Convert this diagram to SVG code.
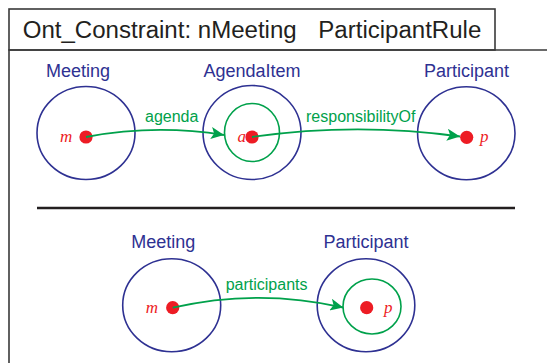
<svg xmlns="http://www.w3.org/2000/svg" width="547" height="363" viewBox="0 0 547 363">
  <defs>
    <style>
      .frame { fill: none; stroke: #3a3a3a; stroke-width: 1.6; }
      .title { font-family: "Liberation Sans", Arial, sans-serif; font-size: 23.5px; fill: #231f20; }
      .cls { fill: none; stroke: #2e3192; stroke-width: 1.6; }
      .inner { fill: none; stroke: #00a14b; stroke-width: 1.6; }
      .dot { fill: #ed1c24; }
      .cname { font-family: "Liberation Sans", Arial, sans-serif; font-size: 18px; fill: #2e3192; }
      .rel { font-family: "Liberation Sans", Arial, sans-serif; font-size: 16px; fill: #00a14b; }
      .var { font-family: "Liberation Serif", "Times New Roman", serif; font-style: italic; font-size: 17px; fill: #ed1c24; }
      .edge { fill: none; stroke: #00a14b; stroke-width: 1.8; }
    </style>
    <marker id="arrow" markerUnits="userSpaceOnUse" markerWidth="14" markerHeight="12" refX="13" refY="6" orient="auto">
      <path d="M0,0 L13,6 L0,12 L3,6 Z" fill="#00a14b"/>
    </marker>
  </defs>

  <g id="frame">
    <rect class="frame" x="9" y="9" width="486" height="41"/>
    <path class="frame" d="M9,364 V50 H548"/>
    <text class="title" x="22.7" y="38" textLength="274" lengthAdjust="spacingAndGlyphs">Ont_Constraint: nMeeting</text>
    <text class="title" x="318.3" y="38" textLength="163" lengthAdjust="spacingAndGlyphs">ParticipantRule</text>
    <line x1="37" y1="208" x2="515" y2="208" stroke="#231f20" stroke-width="2.6"/>
  </g>

  <g id="meeting-top">
    <text class="cname" x="46" y="77">Meeting</text>
    <ellipse class="cls" cx="86" cy="133" rx="49" ry="46.5"/>
    <circle class="dot" cx="86" cy="137" r="6.6"/>
    <text class="var" x="60" y="142">m</text>
  </g>

  <g id="agendaitem-top">
    <text class="cname" x="252" y="77" text-anchor="middle">AgendaItem</text>
    <ellipse class="cls" cx="252" cy="132.5" rx="49" ry="47"/>
    <ellipse class="inner" cx="252" cy="132.5" rx="27.5" ry="29"/>
    <circle class="dot" cx="252" cy="137" r="6.6"/>
    <text class="var" x="237.5" y="142">a</text>
  </g>

  <g id="participant-top">
    <text class="cname" x="466.5" y="77" text-anchor="middle">Participant</text>
    <ellipse class="cls" cx="466.3" cy="133.3" rx="48.7" ry="46.5"/>
    <circle class="dot" cx="466.7" cy="137.3" r="6.6"/>
    <text class="var" x="480" y="142">p</text>
  </g>

  <g id="meeting-bottom">
    <text class="cname" x="163.3" y="248" text-anchor="middle">Meeting</text>
    <ellipse class="cls" cx="171.7" cy="305.3" rx="49" ry="46.5"/>
    <circle class="dot" cx="172.7" cy="307.7" r="6.6"/>
    <text class="var" x="145.7" y="313">m</text>
  </g>

  <g id="participant-bottom">
    <text class="cname" x="366" y="248" text-anchor="middle">Participant</text>
    <ellipse class="cls" cx="366" cy="305.3" rx="48.8" ry="46.5"/>
    <ellipse class="inner" cx="372" cy="306.5" rx="29" ry="27.5"/>
    <circle class="dot" cx="366.7" cy="307.7" r="6.6"/>
    <text class="var" x="384" y="313">p</text>
  </g>

  <g id="connectors">
    <path class="edge" d="M86,137 Q155,124 224,135" marker-end="url(#arrow)"/>
    <text class="rel" x="145" y="122">agenda</text>
    <path class="edge" d="M252,137 Q356,122 460,136.5" marker-end="url(#arrow)"/>
    <text class="rel" x="306" y="122">responsibilityOf</text>
    <path class="edge" d="M172.7,307.7 Q258,288 343.3,307.5" marker-end="url(#arrow)"/>
    <text class="rel" x="225.7" y="290">participants</text>
  </g>
</svg>
